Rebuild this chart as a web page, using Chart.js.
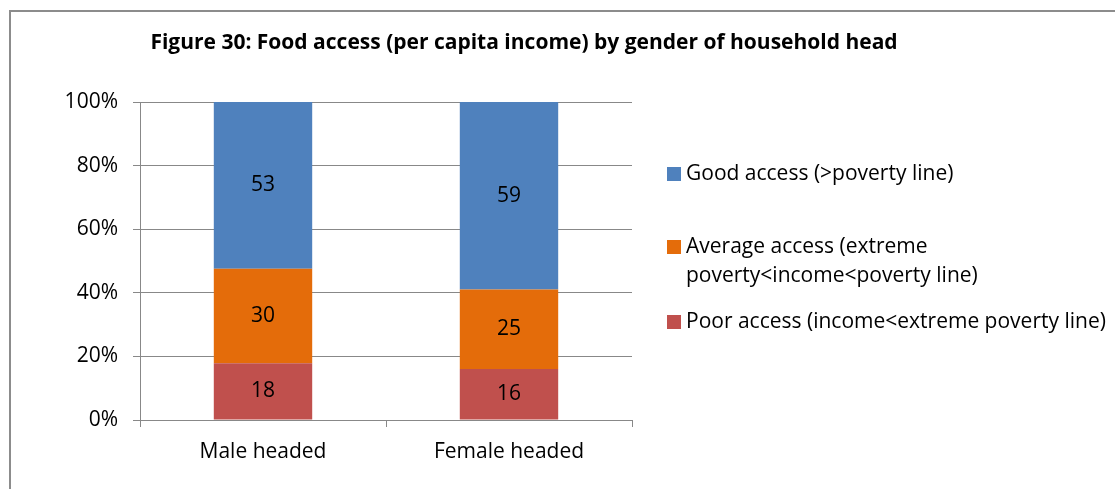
<!DOCTYPE html>
<html>
<head>
<meta charset="utf-8">
<script src="https://cdn.jsdelivr.net/npm/chart.js@4/dist/chart.umd.min.js"></script>
<style>
  html, body { margin: 0; padding: 0; background: #fff; }
  #wrap { width: 1115px; height: 489px; }
</style>
</head>
<body>
<div id="wrap"><canvas id="myChart" width="1115" height="489"></canvas></div>
<script>
var FONT = '"Open Sans", Lato, sans-serif';

var titleText = 'Figure 30: Food access (per capita income) by gender of household head';
var categories = ['Male headed', 'Female headed'];

// household counts (%) per access group
var poorAccess = [18, 16];
var averageAccess = [30, 25];
var goodAccess = [53, 59];

var poorLabel = ['Poor access (income<extreme poverty line)'];
var averageLabel = ['Average access (extreme', 'poverty<income<poverty line)'];
var goodLabel = ['Good access (>poverty line)'];

var groups = [poorAccess, averageAccess, goodAccess];
var totals = categories.map(function (c, i) {
    return groups.reduce(function (s, g) { return s + g[i]; }, 0);
});
function share(arr) {
    return arr.map(function (v, i) { return v / totals[i] * 100; });
}

// frame round the figure
var framePlugin = {
    id: 'frame',
    beforeDraw: function (chart) {
        var ctx = chart.ctx;
        ctx.save();
        ctx.strokeStyle = '#8c8c8c';
        ctx.lineWidth = 2;
        ctx.beginPath();
        ctx.moveTo(10, chart.height);
        ctx.lineTo(10, 11);
        ctx.lineTo(chart.width, 11);
        ctx.stroke();
        ctx.restore();
    }
};

// title, segment values and the wrapped legend on the right
var textPlugin = {
    id: 'texts',
    afterDraw: function (chart) {
        var ctx = chart.ctx;
        ctx.save();
        ctx.fillStyle = '#000';
        ctx.textBaseline = 'middle';

        ctx.font = 'bold 21px ' + FONT;
        ctx.textAlign = 'center';
        ctx.fillText(titleText, 524, 43);

        ctx.font = '21px ' + FONT;
        chart.data.datasets.forEach(function (ds, di) {
            var meta = chart.getDatasetMeta(di);
            meta.data.forEach(function (bar, i) {
                var mid = (bar.y + bar.base) / 2;
                ctx.fillText(ds.raw[i], bar.x, mid);
            });
        });

        ctx.textAlign = 'left';
        var rows = [174, 247, 322];
        var ds = chart.data.datasets.slice().reverse();
        ds.forEach(function (d, k) {
            var y = rows[k];
            ctx.fillStyle = d.backgroundColor;
            ctx.fillRect(667, y - 7, 14, 14);
            ctx.fillStyle = '#000';
            d.legendLines.forEach(function (line, j) {
                ctx.fillText(line, 686, y + j * 29);
            });
        });
        ctx.restore();
    }
};

var ctx = document.getElementById('myChart').getContext('2d');
var chart = new Chart(ctx, {
    type: 'bar',
    data: {
        labels: categories,
        datasets: [{
            label: poorLabel.join(' '),
            legendLines: poorLabel,
            raw: poorAccess,
            data: share(poorAccess),
            backgroundColor: '#C0504D'
        },
        {
            label: averageLabel.join(' '),
            legendLines: averageLabel,
            raw: averageAccess,
            data: share(averageAccess),
            backgroundColor: '#E46C0A'
        },
        {
            label: goodLabel.join(' '),
            legendLines: goodLabel,
            raw: goodAccess,
            data: share(goodAccess),
            backgroundColor: '#4F81BD'
        }]
    },
    options: {
        responsive: false,
        animation: false,
        events: [],
        layout: {
            padding: { left: 0, right: 483, top: 102, bottom: 0 }
        },
        plugins: {
            legend: { display: false },
            title: { display: false },
            tooltip: { enabled: false }
        },
        datasets: {
            bar: { categoryPercentage: 1, barPercentage: 0.4 }
        },
        scales: {
            x: {
                stacked: true,
                afterFit: function (scale) { scale.height = 69; },
                grid: {
                    drawOnChartArea: false,
                    drawTicks: true,
                    tickLength: 7,
                    color: '#888'
                },
                border: { color: '#888' },
                ticks: {
                    color: '#000',
                    padding: 12,
                    font: { family: FONT, size: 21 }
                }
            },
            y: {
                stacked: true,
                min: 0,
                max: 100,
                afterFit: function (scale) { scale.width = 140; },
                grid: {
                    color: '#888',
                    tickLength: 7
                },
                border: { color: '#888' },
                ticks: {
                    stepSize: 20,
                    color: '#000',
                    padding: 15,
                    font: { family: FONT, size: 21 },
                    callback: function (v) { return v + '%'; }
                }
            }
        }
    },
    plugins: [framePlugin, textPlugin]
});
</script>
</body>
</html>
